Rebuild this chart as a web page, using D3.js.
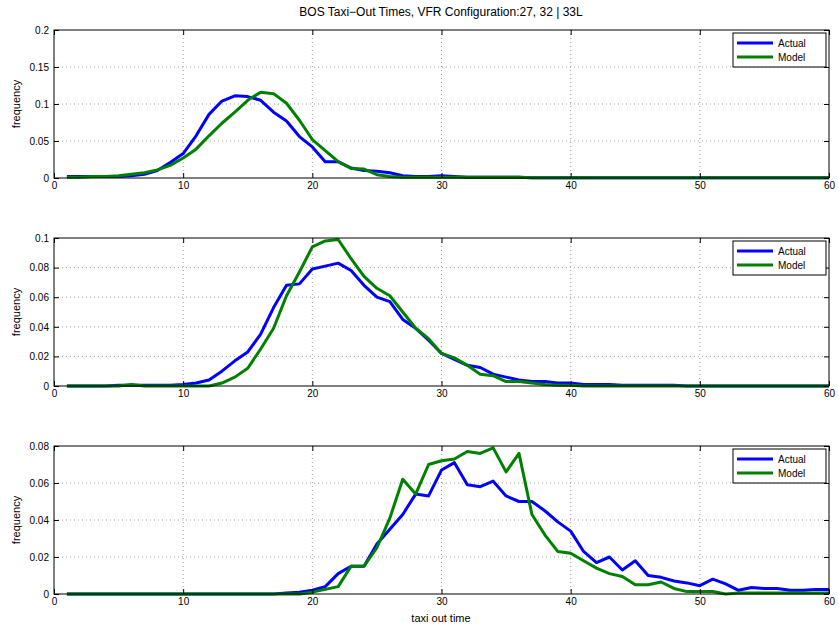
<!DOCTYPE html>
<html><head><meta charset="utf-8">
<script src="https://cdn.jsdelivr.net/npm/d3@7"></script>
<style>body{margin:0;background:#fff}text{font-family:"Liberation Sans",Arial,sans-serif}</style>
</head><body><svg id="c" width="839" height="628"></svg>
<script>
const xs = d3.range(1, 61);
const title = "BOS Taxi\u2212Out Times, VFR Configuration:27, 32 | 33L";
const actual1 = [0.002,0.002,0.002,0.002,0.002,0.003,0.005,0.01,0.021,0.033,0.057,0.086,0.104,0.111,0.110,0.105,0.089,0.077,0.056,0.042,0.022,0.022,0.0135,0.01,0.009,0.007,0.003,0.002,0.002,0.003,0.002,0.001,0.001,0.001,0.001,0.001,0.0005,0.0005,0.0005,0.0005,0.0005,0.0005,0.0005,0.0005,0.0005,0.0005,0.0005,0.0005,0.0005,0.0005,0.0005,0.0005,0.0005,0.0005,0.0005,0.0005,0.0005,0.0005,0.0005,0.0005];
const model1 = [0.001,0.001,0.002,0.002,0.003,0.005,0.007,0.011,0.017,0.027,0.039,0.057,0.074,0.089,0.105,0.116,0.114,0.101,0.078,0.052,0.037,0.022,0.013,0.012,0.0045,0.002,0.001,0.001,0.001,0.001,0.001,0.001,0.001,0.001,0.001,0.001,0.0005,0.0005,0.0005,0.0005,0.0005,0.0005,0.0005,0.0005,0.0005,0.0005,0.0005,0.0005,0.0005,0.0005,0.0005,0.0005,0.0005,0.0005,0.0005,0.0005,0.0005,0.0005,0.0005,0.0005];
const actual2 = [0,0,0,0,0.0005,0.0005,0.0005,0.0005,0.0005,0.001,0.002,0.004,0.01,0.017,0.023,0.035,0.053,0.068,0.069,0.079,0.081,0.083,0.078,0.068,0.06,0.057,0.045,0.039,0.031,0.022,0.018,0.014,0.0125,0.008,0.006,0.004,0.003,0.003,0.002,0.002,0.001,0.001,0.001,0.0005,0.0005,0.0005,0.0005,0.0005,0,0,0,0,0,0,0,0,0,0,0,0];
const model2 = [0,0,0,0,0,0.001,0,0,0,0,0,0,0.002,0.006,0.012,0.025,0.039,0.061,0.077,0.094,0.098,0.099,0.086,0.074,0.066,0.061,0.05,0.039,0.032,0.022,0.019,0.014,0.008,0.007,0.003,0.003,0.002,0.001,0.0005,0.0005,0,0,0,0,0,0,0,0,0,0,0,0,0,0,0,0,0,0,0,0];
const actual3 = [0,0,0,0,0,0,0,0,0,0,0,0,0,0,0,0,0,0.0005,0.001,0.002,0.004,0.011,0.015,0.015,0.027,0.035,0.043,0.054,0.053,0.067,0.071,0.059,0.058,0.061,0.053,0.05,0.05,0.045,0.039,0.034,0.023,0.017,0.02,0.013,0.018,0.01,0.009,0.007,0.006,0.0045,0.008,0.0055,0.002,0.0035,0.003,0.003,0.002,0.002,0.0025,0.0025];
const model3 = [0,0,0,0,0,0,0,0,0,0,0,0,0,0,0,0,0,0,0,0.001,0.0025,0.004,0.015,0.015,0.025,0.041,0.062,0.054,0.07,0.072,0.073,0.077,0.076,0.079,0.066,0.076,0.043,0.032,0.023,0.022,0.018,0.014,0.011,0.0095,0.005,0.005,0.0065,0.003,0.0013,0.0013,0.0013,0,0.0005,0.0005,0.0005,0.0005,0.0005,0.0005,0.0005,0.0005];
const xTicks = [0,10,20,30,40,50,60];
const panels = [
  {a:actual1, m:model1, ymax:0.2, yt:[0,0.05,0.1,0.15,0.2], top:30},
  {a:actual2, m:model2, ymax:0.1, yt:[0,0.02,0.04,0.06,0.08,0.1], top:238},
  {a:actual3, m:model3, ymax:0.08, yt:[0,0.02,0.04,0.06,0.08], top:446}
];
const svg = d3.select("#c");
const L=54, R=829, H=148;
const x = d3.scaleLinear().domain([0,60]).range([L,R]);
svg.append("text").attr("x",441).attr("y",16).attr("text-anchor","middle").attr("font-size",12).text(title);
panels.forEach(p=>{
  const y = d3.scaleLinear().domain([0,p.ymax]).range([p.top+H,p.top]);
  const g = svg.append("g");
  g.append("rect").attr("x",L).attr("y",p.top).attr("width",R-L).attr("height",H).attr("fill","#fff");
  xTicks.slice(1,-1).forEach(t=>g.append("line").attr("x1",x(t)).attr("x2",x(t)).attr("y1",p.top).attr("y2",p.top+H).attr("stroke","#888").attr("stroke-width",0.8).attr("stroke-dasharray","1,3"));
  p.yt.slice(1,-1).forEach(t=>g.append("line").attr("x1",L).attr("x2",R).attr("y1",y(t)).attr("y2",y(t)).attr("stroke","#888").attr("stroke-width",0.8).attr("stroke-dasharray","1,3"));
  const line = d3.line().x((d,i)=>x(xs[i])).y(d=>y(d));
  g.append("path").attr("d",line(p.a)).attr("fill","none").attr("stroke","#0000ff").attr("stroke-width",3).attr("stroke-linejoin","round");
  g.append("path").attr("d",line(p.m)).attr("fill","none").attr("stroke","#008000").attr("stroke-width",3).attr("stroke-linejoin","round");
  g.append("rect").attr("x",L).attr("y",p.top).attr("width",R-L).attr("height",H).attr("fill","none").attr("stroke","#000").attr("stroke-width",1);
  const xa = g.append("g").attr("transform",`translate(0,${p.top+H})`).call(d3.axisBottom(x).tickValues(xTicks).tickSizeInner(-5).tickSizeOuter(0).tickPadding(4));
  const xa2 = g.append("g").attr("transform",`translate(0,${p.top})`).call(d3.axisTop(x).tickValues(xTicks).tickSizeInner(-5).tickSizeOuter(0).tickFormat(""));
  const ya = g.append("g").attr("transform",`translate(${L},0)`).call(d3.axisLeft(y).tickValues(p.yt).tickSizeInner(-5).tickSizeOuter(0).tickPadding(5).tickFormat(d=>d3.format("~g")(d)));
  const ya2 = g.append("g").attr("transform",`translate(${R},0)`).call(d3.axisRight(y).tickValues(p.yt).tickSizeInner(-5).tickSizeOuter(0).tickFormat(""));
  [xa,xa2,ya,ya2].forEach(a=>{a.select(".domain").remove();a.selectAll("text").attr("font-size",10).attr("fill","#000").attr("font-family","Liberation Sans, Arial, sans-serif");});
  svg.append("text").attr("transform",`translate(20,${p.top+H/2}) rotate(-90)`).attr("text-anchor","middle").attr("font-size",11).text("frequency");
  const lg = svg.append("g").attr("transform",`translate(733,${p.top+3})`);
  lg.append("rect").attr("width",93).attr("height",34).attr("fill","#fff").attr("stroke","#000");
  [["Actual","#0000ff"],["Model","#008000"]].forEach((d,i)=>{
    lg.append("line").attr("x1",4).attr("x2",40).attr("y1",10+i*14).attr("y2",10+i*14).attr("stroke",d[1]).attr("stroke-width",3);
    lg.append("text").attr("x",45).attr("y",14+i*14).attr("font-size",10).text(d[0]);
  });
});
svg.append("text").attr("x",441).attr("y",622).attr("text-anchor","middle").attr("font-size",11).text("taxi out time");
</script></body></html>
